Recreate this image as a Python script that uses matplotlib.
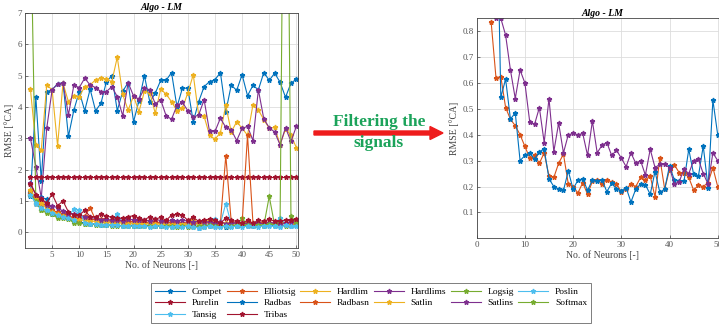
import matplotlib
matplotlib.use("Agg")
import matplotlib.pyplot as plt
from matplotlib.patches import FancyArrow

plt.rcParams['font.family'] = ['Liberation Serif', 'DejaVu Serif']

neurons = list(range(1, 51))

compet = [1.15, 4.31, 1.65, 4.49, 4.55, 4.74, 4.78, 3.06, 3.90, 4.49, 3.88, 4.57, 3.88, 4.12, 4.81, 5.00, 3.88, 4.50, 4.78, 3.53,
          4.20, 5.00, 4.16, 4.44, 4.85, 4.85, 5.10, 4.00, 4.60, 4.60, 3.53, 4.17, 4.65, 4.81, 4.87, 5.10, 3.85, 4.70, 4.53, 5.03,
          4.36, 4.69, 4.55, 5.10, 4.85, 5.08, 4.79, 4.31, 4.76, 4.89]
elliotsig = [1.30, 0.92, 1.02, 0.80, 0.72, 0.62, 0.58, 0.52, 0.46, 0.44, 0.52, 0.78, 0.40, 0.42, 0.38, 0.36, 0.40, 0.35, 0.33, 0.36,
             0.32, 0.35, 0.30, 0.33, 0.31, 0.34, 0.30, 0.32, 0.31, 0.29, 0.33, 0.30, 0.36, 0.32, 0.30, 0.33, 0.30, 0.31, 0.29, 0.30,
             0.32, 0.28, 0.30, 0.33, 0.29, 0.31, 0.28, 0.30, 0.32, 0.30]
hardlim = [4.57, 2.79, 2.63, 4.70, 4.55, 2.76, 4.76, 4.17, 4.36, 4.33, 4.65, 4.70, 4.87, 4.92, 4.89, 4.81, 5.59, 4.40, 3.90, 4.35,
           3.85, 4.50, 4.45, 3.80, 4.57, 4.41, 4.17, 3.88, 3.96, 4.45, 5.03, 3.75, 3.70, 3.10, 2.97, 3.18, 4.05, 3.20, 3.53, 3.32,
           3.10, 4.07, 3.90, 3.60, 3.32, 3.35, 2.80, 3.30, 3.10, 2.70]
hardlims = [3.00, 2.10, 1.10, 3.32, 4.55, 4.73, 4.76, 3.75, 4.69, 4.62, 4.92, 4.70, 4.62, 4.49, 4.49, 4.65, 4.33, 3.72, 4.78, 4.35,
            4.25, 4.60, 4.55, 4.10, 4.23, 3.72, 3.61, 4.05, 4.15, 3.88, 3.67, 3.75, 4.23, 3.22, 3.22, 3.64, 3.35, 3.27, 2.93, 3.32,
            3.38, 2.93, 4.55, 3.62, 3.34, 3.20, 2.79, 3.34, 2.90, 3.38]
logsig = [10.5, 0.95, 0.72, 0.65, 0.62, 0.48, 0.47, 0.45, 0.30, 0.32, 0.28, 0.27, 0.26, 0.24, 0.22, 0.23, 0.21, 0.22, 0.20, 0.21,
          0.20, 0.19, 0.21, 0.20, 0.19, 0.20, 0.18, 0.19, 0.20, 0.18, 0.19, 0.20, 0.18, 0.19, 0.21, 0.20, 0.18, 0.20, 0.21, 0.45,
          0.22, 0.20, 0.23, 0.21, 1.15, 0.22, 0.24, 0.21, 0.23, 0.25]
poslin = [1.20, 0.92, 0.80, 0.68, 0.60, 0.58, 0.55, 0.50, 0.75, 0.55, 0.45, 0.40, 0.42, 0.35, 0.30, 0.33, 0.60, 0.30, 0.28, 0.26,
          0.25, 0.28, 0.26, 0.30, 0.25, 0.27, 0.24, 0.28, 0.25, 0.26, 0.24, 0.27, 0.25, 0.26, 0.43, 0.28, 0.92, 0.26, 0.25, 0.27,
          0.24, 0.26, 0.25, 0.28, 0.26, 0.30, 0.45, 0.27, 0.25, 0.28]
purelin = [1.77, 1.77, 1.77, 1.77, 1.77, 1.77, 1.77, 1.77, 1.77, 1.77, 1.77, 1.77, 1.77, 1.77, 1.77, 1.77, 1.77, 1.77, 1.77, 1.77,
           1.77, 1.77, 1.77, 1.77, 1.77, 1.77, 1.77, 1.77, 1.77, 1.77, 1.77, 1.77, 1.77, 1.77, 1.77, 1.77, 1.77, 1.77, 1.77, 1.77,
           1.77, 1.77, 1.77, 1.77, 1.77, 1.77, 1.77, 1.77, 1.77, 1.77]
radbas = [1.25, 1.10, 1.12, 1.05, 0.60, 0.55, 0.50, 0.45, 0.35, 0.33, 0.30, 0.28, 0.27, 0.25, 0.24, 0.22, 0.23, 0.21, 0.22, 0.20,
          0.21, 0.22, 0.20, 0.21, 0.20, 0.22, 0.19, 0.21, 0.20, 0.19, 0.20, 0.15, 0.19, 0.21, 0.22, 0.20, 0.18, 0.21, 0.19, 0.22,
          0.20, 0.21, 0.23, 0.20, 0.22, 0.21, 0.19, 0.22, 0.21, 0.23]
radbasn = [1.22, 1.05, 0.92, 0.85, 0.68, 0.65, 0.55, 0.48, 0.50, 0.42, 0.45, 0.40, 0.42, 0.38, 0.35, 0.37, 0.34, 0.33, 0.35, 0.32,
           0.30, 0.33, 0.29, 0.31, 0.30, 0.28, 0.32, 0.30, 0.29, 0.31, 0.28, 0.30, 0.29, 0.31, 0.27, 0.30, 2.45, 0.33, 0.30, 0.28,
           3.10, 0.30, 0.27, 0.32, 0.30, 0.28, 0.31, 0.29, 0.33, 0.35]
satlin = [1.35, 1.08, 0.95, 0.75, 0.65, 0.60, 0.52, 0.45, 0.42, 0.40, 0.38, 0.36, 0.35, 0.33, 0.32, 0.30, 0.31, 0.29, 0.28, 0.30,
          0.28, 0.27, 0.29, 0.26, 0.28, 0.27, 0.25, 0.28, 0.26, 0.27, 0.38, 0.27, 0.36, 0.40, 0.35, 0.28, 0.30, 0.26, 0.28, 0.25,
          0.27, 0.26, 0.28, 0.25, 0.27, 0.26, 0.30, 0.25, 0.28, 0.26]
satlins = [1.58, 1.20, 1.10, 0.88, 0.85, 0.78, 0.68, 0.60, 0.58, 0.55, 0.50, 0.48, 0.45, 0.40, 0.43, 0.38, 0.40, 0.37, 0.42, 0.40,
           0.38, 0.40, 0.36, 0.42, 0.37, 0.35, 0.38, 0.36, 0.40, 0.35, 0.33, 0.35, 0.32, 0.34, 0.30, 0.33, 0.28, 0.30, 0.29, 0.31,
           0.26, 0.28, 0.30, 0.27, 0.31, 0.29, 0.27, 0.30, 0.32, 0.31]
softmax = [1.20, 1.00, 0.70, 0.62, 0.58, 0.45, 0.48, 0.42, 0.32, 0.30, 0.27, 0.26, 0.25, 0.23, 0.22, 0.21, 0.22, 0.20, 0.21, 0.19,
           0.20, 0.21, 0.19, 0.20, 0.21, 0.19, 0.20, 0.18, 0.19, 0.20, 0.18, 0.19, 0.20, 0.22, 0.19, 0.21, 0.20, 0.19, 0.22, 0.24,
           0.23, 0.25, 0.22, 0.24, 0.26, 0.25, 0.35, 20.0, 0.52, 0.30]
tansig = [1.18, 0.95, 0.78, 0.70, 0.62, 0.55, 0.50, 0.47, 0.40, 0.70, 0.30, 0.28, 0.27, 0.25, 0.22, 0.24, 0.22, 0.20, 0.21, 0.19,
          0.20, 0.19, 0.18, 0.20, 0.19, 0.18, 0.17, 0.19, 0.18, 0.19, 0.17, 0.15, 0.18, 0.19, 0.17, 0.18, 0.19, 0.17, 0.20, 0.18,
          0.19, 0.20, 0.18, 0.21, 0.19, 0.20, 0.18, 0.22, 0.20, 0.19]
tribas = [1.55, 1.20, 1.05, 0.95, 1.22, 0.85, 1.00, 0.65, 0.55, 0.55, 0.70, 0.50, 0.50, 0.58, 0.52, 0.48, 0.45, 0.45, 0.50, 0.53,
          0.45, 0.40, 0.50, 0.42, 0.48, 0.38, 0.55, 0.58, 0.55, 0.38, 0.48, 0.35, 0.40, 0.42, 0.38, 0.30, 0.45, 0.38, 0.35, 0.30,
          0.38, 0.30, 0.38, 0.35, 0.42, 0.35, 0.35, 0.40, 0.38, 0.42]

series_names = ['Compet', 'Elliotsig', 'Hardlim', 'Hardlims', 'Logsig', 'Poslin', 'Purelin',
                'Radbas', 'Radbasn', 'Satlin', 'Satlins', 'Softmax', 'Tansig', 'Tribas']
series_values = [compet, elliotsig, hardlim, hardlims, logsig, poslin, purelin,
                 radbas, radbasn, satlin, satlins, softmax, tansig, tribas]

# Filtered signals (right chart)
filt_orange_x = list(range(3, 51))
filt_orange = [0.835, 0.62, 0.625, 0.505, 0.46, 0.435, 0.40, 0.355, 0.31, 0.32, 0.29, 0.33, 0.24, 0.235, 0.29, 0.325,
               0.21, 0.20, 0.175, 0.215, 0.17, 0.22, 0.225, 0.21, 0.225, 0.218, 0.21, 0.18, 0.19, 0.21, 0.20, 0.235,
               0.225, 0.24, 0.16, 0.31, 0.19, 0.265, 0.284, 0.254, 0.254, 0.235, 0.186, 0.205, 0.20, 0.215, 0.273, 0.20]
filt_blue_x = list(range(4, 51))
filt_blue = [1.5, 0.545, 0.615, 0.46, 0.485, 0.30, 0.32, 0.33, 0.305, 0.335, 0.345, 0.23, 0.20, 0.19, 0.185, 0.26,
             0.19, 0.225, 0.23, 0.185, 0.225, 0.222, 0.226, 0.18, 0.213, 0.19, 0.184, 0.196, 0.14, 0.19, 0.21, 0.207,
             0.17, 0.258, 0.177, 0.19, 0.28, 0.226, 0.223, 0.22, 0.344, 0.248, 0.24, 0.357, 0.196, 0.534, 0.40]
filt_purple_x = list(range(4, 51))
filt_purple = [0.85, 0.85, 0.785, 0.65, 0.54, 0.65, 0.60, 0.45, 0.44, 0.505, 0.37, 0.54, 0.335, 0.445, 0.33, 0.40,
               0.405, 0.40, 0.405, 0.32, 0.453, 0.33, 0.36, 0.37, 0.32, 0.34, 0.31, 0.277, 0.33, 0.29, 0.30, 0.244,
               0.344, 0.273, 0.286, 0.286, 0.273, 0.21, 0.218, 0.267, 0.25, 0.30, 0.305, 0.25, 0.21, 0.33, 0.30]

colors = ['#0072BD', '#D95319', '#EDB120', '#7E2F8E', '#77AC30', '#4DBEEE', '#A2142F']

W, H = 719, 326
fig = plt.figure(figsize=(W / 100, H / 100), dpi=100)

MS = 3.5

def style_axes(ax):
    ax.grid(True, color='#dddddd', linewidth=0.6)
    ax.set_axisbelow(True)
    for s in ax.spines.values():
        s.set_color('#444444')
        s.set_linewidth(0.6)
    ax.tick_params(direction='in', length=2, width=0.5, labelsize=6.5, colors='#444444', pad=2)
    for lab in ax.get_xticklabels() + ax.get_yticklabels():
        lab.set_color('#555555')

# Left axes
axL = fig.add_axes([25 / W, 1 - 248 / H, (298 - 25) / W, (248 - 13) / H])
handles = []
for i, (name, vals) in enumerate(zip(series_names, series_values)):
    h, = axL.plot(neurons, vals, '-', marker='*', color=colors[i % 7], lw=0.8, ms=MS, label=name)
    handles.append(h)
axL.set_xlim(0, 50.3)
axL.set_ylim(-0.5, 7)
axL.set_xticks(range(5, 51, 5))
axL.set_yticks(range(0, 8))
axL.set_xlabel('No. of Neurons [-]', fontsize=7, color='#444444', labelpad=1)
axL.set_ylabel('RMSE [°CA]', fontsize=7, color='#444444', labelpad=3)
axL.set_title('Algo - LM', fontsize=7, fontweight='bold', fontstyle='italic', pad=2)
style_axes(axL)

# Right axes
axR = fig.add_axes([476.7 / W, 1 - 238.3 / H, (52 * 4.82) / W, (238.3 - 18.3) / H])
axR.plot(filt_orange_x, filt_orange, '-', marker='*', color=colors[1], lw=0.8, ms=MS)
axR.plot(filt_blue_x, filt_blue, '-', marker='*', color=colors[0], lw=0.8, ms=MS)
axR.plot(filt_purple_x, filt_purple, '-', marker='*', color=colors[3], lw=0.8, ms=MS)
axR.set_xlim(0, 52)
axR.set_ylim(0, 0.85)
axR.set_xticks(range(0, 51, 10))
axR.set_yticks([0.1, 0.2, 0.3, 0.4, 0.5, 0.6, 0.7, 0.8])
axR.set_xlabel('No. of Neurons [-]', fontsize=7, color='#444444', labelpad=1)
axR.set_ylabel('RMSE [°CA]', fontsize=7, color='#444444', labelpad=3)
axR.set_title('Algo - LM', fontsize=7, fontweight='bold', fontstyle='italic', pad=2)
style_axes(axR)

# Arrow and text
fig.patches.append(FancyArrow(314 / W, 1 - 133 / H, (430 - 314) / W, 0, width=4 / H,
                              head_width=13 / H, head_length=13 / W, length_includes_head=False,
                              color='#EE1C1C', transform=fig.transFigure, figure=fig))
fig.text(379 / W, 1 - 122 / H, 'Filtering the', ha='center', va='center', fontsize=12.5,
         fontweight='bold', color='#1BA35A')
fig.text(379 / W, 1 - 143 / H, 'signals', ha='center', va='center', fontsize=12.5,
         fontweight='bold', color='#1BA35A')

# Legend (row-major ordering emulated)
order = [0, 6, 12, 1, 7, 13, 2, 8, 3, 9, 4, 10, 5, 11]
leg = fig.legend([handles[i] for i in order], [series_names[i] for i in order], ncol=6,
                 loc='upper left', bbox_to_anchor=(151 / W, 1 - 283 / H), fontsize=6.8,
                 frameon=True, fancybox=False, edgecolor='#444444', handlelength=3.2,
                 columnspacing=0.45, labelspacing=0.32, borderpad=0.45, handletextpad=0.7,
                 borderaxespad=0)
leg.get_frame().set_linewidth(0.6)

fig.savefig('out.png', dpi=100)
